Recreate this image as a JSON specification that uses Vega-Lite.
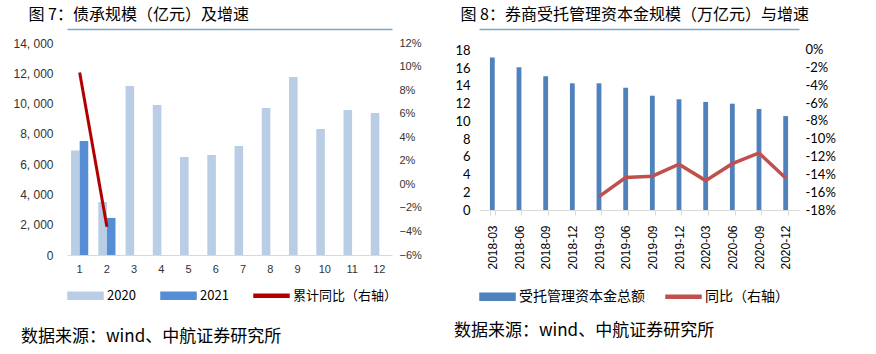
{
  "$schema": "https://vega.github.io/schema/vega-lite/v6.json",
  "background": "white",
  "padding": {"left": 12, "top": 6, "right": 5, "bottom": 6},
  "config": {"view": {"stroke": null}, "axis": {"grid": false}},
  "resolve": {"scale": {"color": "independent"}, "legend": {"color": "independent"}},
  "datasets": {
    "bond": [
      {"month": 1, "year": "2020", "value": 6900},
      {"month": 1, "year": "2021", "value": 7530},
      {"month": 2, "year": "2020", "value": 3500},
      {"month": 2, "year": "2021", "value": 2450},
      {"month": 3, "year": "2020", "value": 11160},
      {"month": 4, "year": "2020", "value": 9900},
      {"month": 5, "year": "2020", "value": 6470},
      {"month": 6, "year": "2020", "value": 6600},
      {"month": 7, "year": "2020", "value": 7200},
      {"month": 8, "year": "2020", "value": 9710},
      {"month": 9, "year": "2020", "value": 11760},
      {"month": 10, "year": "2020", "value": 8320},
      {"month": 11, "year": "2020", "value": 9580},
      {"month": 12, "year": "2020", "value": 9380}
    ],
    "bondGrowth": [
      {"month": 1, "series": "累计同比（右轴）", "growth": 0.095},
      {"month": 2, "series": "累计同比（右轴）", "growth": -0.036}
    ],
    "capital": [
      {"period": "2018-03", "value": 17.2},
      {"period": "2018-06", "value": 16.1},
      {"period": "2018-09", "value": 15.1},
      {"period": "2018-12", "value": 14.3},
      {"period": "2019-03", "value": 14.3},
      {"period": "2019-06", "value": 13.8},
      {"period": "2019-09", "value": 12.9},
      {"period": "2019-12", "value": 12.5},
      {"period": "2020-03", "value": 12.2},
      {"period": "2020-06", "value": 12.0},
      {"period": "2020-09", "value": 11.4},
      {"period": "2020-12", "value": 10.6}
    ],
    "capitalGrowth": [
      {"period": "2019-03", "growth": -0.165},
      {"period": "2019-06", "growth": -0.1435},
      {"period": "2019-09", "growth": -0.142},
      {"period": "2019-12", "growth": -0.1286},
      {"period": "2020-03", "growth": -0.147},
      {"period": "2020-06", "growth": -0.128},
      {"period": "2020-09", "growth": -0.116},
      {"period": "2020-12", "growth": -0.144}
    ]
  },
  "spacing": 31,
  "hconcat": [
    {
      "width": 325,
      "height": 212,
      "title": {"text": "数据来源：wind、中航证券研究所", "orient": "bottom", "anchor": "start", "frame": "bounds", "dx": 8, "offset": 26, "font": "Noto Sans CJK SC", "fontSize": 17, "fontWeight": "normal", "color": "#000"},
      "resolve": {"scale": {"y": "independent"}, "axis": {"x": "independent"}},
      "layer": [
        {
          "data": {"name": "bond"},
          "mark": {"type": "bar"},
          "encoding": {
            "x": {"field": "month", "type": "ordinal", "scale": {"paddingInner": 0.37, "paddingOuter": 0.15},
              "axis": {"title": null, "labelAngle": 0, "ticks": false, "domainColor": "#D9D9D9", "labelFont": "Liberation Sans", "labelFontSize": 11, "labelColor": "#333", "labelPadding": 8}},
            "xOffset": {"field": "year", "type": "nominal"},
            "y": {"field": "value", "type": "quantitative", "scale": {"domain": [0, 14000], "nice": false},
              "axis": {"values": [0, 2000, 4000, 6000, 8000, 10000, 12000, 14000], "labelExpr": "replace(format(datum.value, ',.0f'), ',', ', ')", "domain": false, "ticks": false, "labelPadding": 14, "labelFont": "Liberation Sans", "labelFontSize": 12, "labelColor": "#333",
                "title": "图 7：债承规模（亿元）及增速", "titleAngle": 0, "titleAlign": "left", "titleBaseline": "top", "titlePadding": -8, "titleX": -39, "titleY": -37, "titleFont": "Noto Sans CJK SC", "titleFontSize": 16, "titleFontWeight": "normal", "titleColor": "#000"}},
            "color": {"field": "year", "type": "nominal",
              "scale": {"domain": ["2020", "2021", "累计同比（右轴）"], "range": ["#B9CDE5", "#558ED5", "#B20000"]},
              "legend": {"orient": "bottom", "direction": "horizontal", "title": null, "offset": 3, "labelFont": "Noto Sans CJK SC", "labelFontSize": 13, "labelColor": "#000", "symbolSize": 1225, "symbolType": "M-1,-0.2H1V0.2H-1Z", "columnPadding": 22, "labelOffset": 3,
                "encode": {"symbols": {"update": {"shape": {"signal": "datum.label == '累计同比（右轴）' ? 'M-1,-0.08H1V0.08H-1Z' : 'M-1,-0.2H1V0.2H-1Z'"}}}}}}
          }
        },
        {
          "data": {"name": "bondGrowth"},
          "mark": {"type": "line", "strokeWidth": 3},
          "encoding": {
            "x": {"field": "month", "type": "ordinal",
              "axis": {"orient": "top", "offset": 14, "labels": false, "ticks": false, "title": null, "domainColor": "#7FA7C9", "domainWidth": 1.5}},
            "y": {"field": "growth", "type": "quantitative", "scale": {"domain": [-0.06, 0.12], "nice": false},
              "axis": {"orient": "right", "title": null, "values": [-0.06, -0.04, -0.02, 0, 0.02, 0.04, 0.06, 0.08, 0.1, 0.12], "format": ".0%", "domain": false, "ticks": false, "labelPadding": 7, "labelFont": "Liberation Sans", "labelFontSize": 11, "labelColor": "#333"}},
            "color": {"field": "series", "type": "nominal"}
          }
        }
      ]
    },
    {
      "width": 320,
      "height": 167,
      "title": {"text": "数据来源：wind、中航证券研究所", "orient": "bottom", "anchor": "start", "frame": "bounds", "dx": -1, "offset": 19, "font": "Noto Sans CJK SC", "fontSize": 17, "fontWeight": "normal", "color": "#000"},
      "resolve": {"scale": {"y": "independent"}, "axis": {"x": "independent"}},
      "layer": [
        {
          "data": {"name": "capital"},
          "mark": {"type": "bar"},
          "encoding": {
            "x": {"field": "period", "type": "ordinal", "scale": {"paddingInner": 0.82, "paddingOuter": 0.41},
              "axis": {"title": null, "labelAngle": -90, "tickBand": "extent", "ticks": true, "tickSize": 5, "tickColor": "#D9D9D9", "domainColor": "#D9D9D9", "labelFont": "Liberation Sans", "labelFontSize": 12, "labelColor": "#000", "labelPadding": 10}},
            "y": {"field": "value", "type": "quantitative", "scale": {"domain": [0, 18.85], "nice": false},
              "axis": {"values": [0, 2, 4, 6, 8, 10, 12, 14, 16, 18], "domain": false, "ticks": false, "labelPadding": 9, "labelFont": "Lato", "labelFontSize": 13, "labelColor": "#000",
                "title": "图 8：券商受托管理资本金规模（万亿元）与增速", "titleAngle": 0, "titleAlign": "left", "titleBaseline": "top", "titleX": -19, "titleY": -37, "titleFont": "Noto Sans CJK SC", "titleFontSize": 16, "titleFontWeight": "normal", "titleColor": "#000"}},
            "color": {"datum": "受托管理资本金总额",
              "scale": {"domain": ["受托管理资本金总额", "同比（右轴）"], "range": ["#4F81BD", "#C0504D"]},
              "legend": {"orient": "bottom", "direction": "horizontal", "title": null, "offset": 8, "labelFont": "Noto Sans CJK SC", "labelFontSize": 14, "labelColor": "#000", "symbolSize": 1225, "symbolType": "M-1,-0.2H1V0.2H-1Z", "columnPadding": 18, "labelOffset": 3,
                "encode": {"symbols": {"update": {"shape": {"signal": "datum.label == '同比（右轴）' ? 'M-1,-0.08H1V0.08H-1Z' : 'M-1,-0.2H1V0.2H-1Z'"}}}}}}
          }
        },
        {
          "data": {"name": "capitalGrowth"},
          "mark": {"type": "line", "strokeWidth": 3.5},
          "encoding": {
            "x": {"field": "period", "type": "ordinal",
              "axis": {"orient": "top", "offset": 14, "labels": false, "ticks": false, "title": null, "domainColor": "#7FA7C9", "domainWidth": 1.5}},
            "y": {"field": "growth", "type": "quantitative", "scale": {"domain": [-0.18, 0.0075], "nice": false},
              "axis": {"orient": "right", "title": null, "values": [-0.18, -0.16, -0.14, -0.12, -0.1, -0.08, -0.06, -0.04, -0.02, 0], "format": ".0%", "labelExpr": "replace(datum.label, '−', '-')", "domain": false, "ticks": false, "labelPadding": 6, "labelFont": "Lato", "labelFontSize": 13, "labelColor": "#000"}},
            "color": {"datum": "同比（右轴）"}
          }
        }
      ]
    }
  ]
}
